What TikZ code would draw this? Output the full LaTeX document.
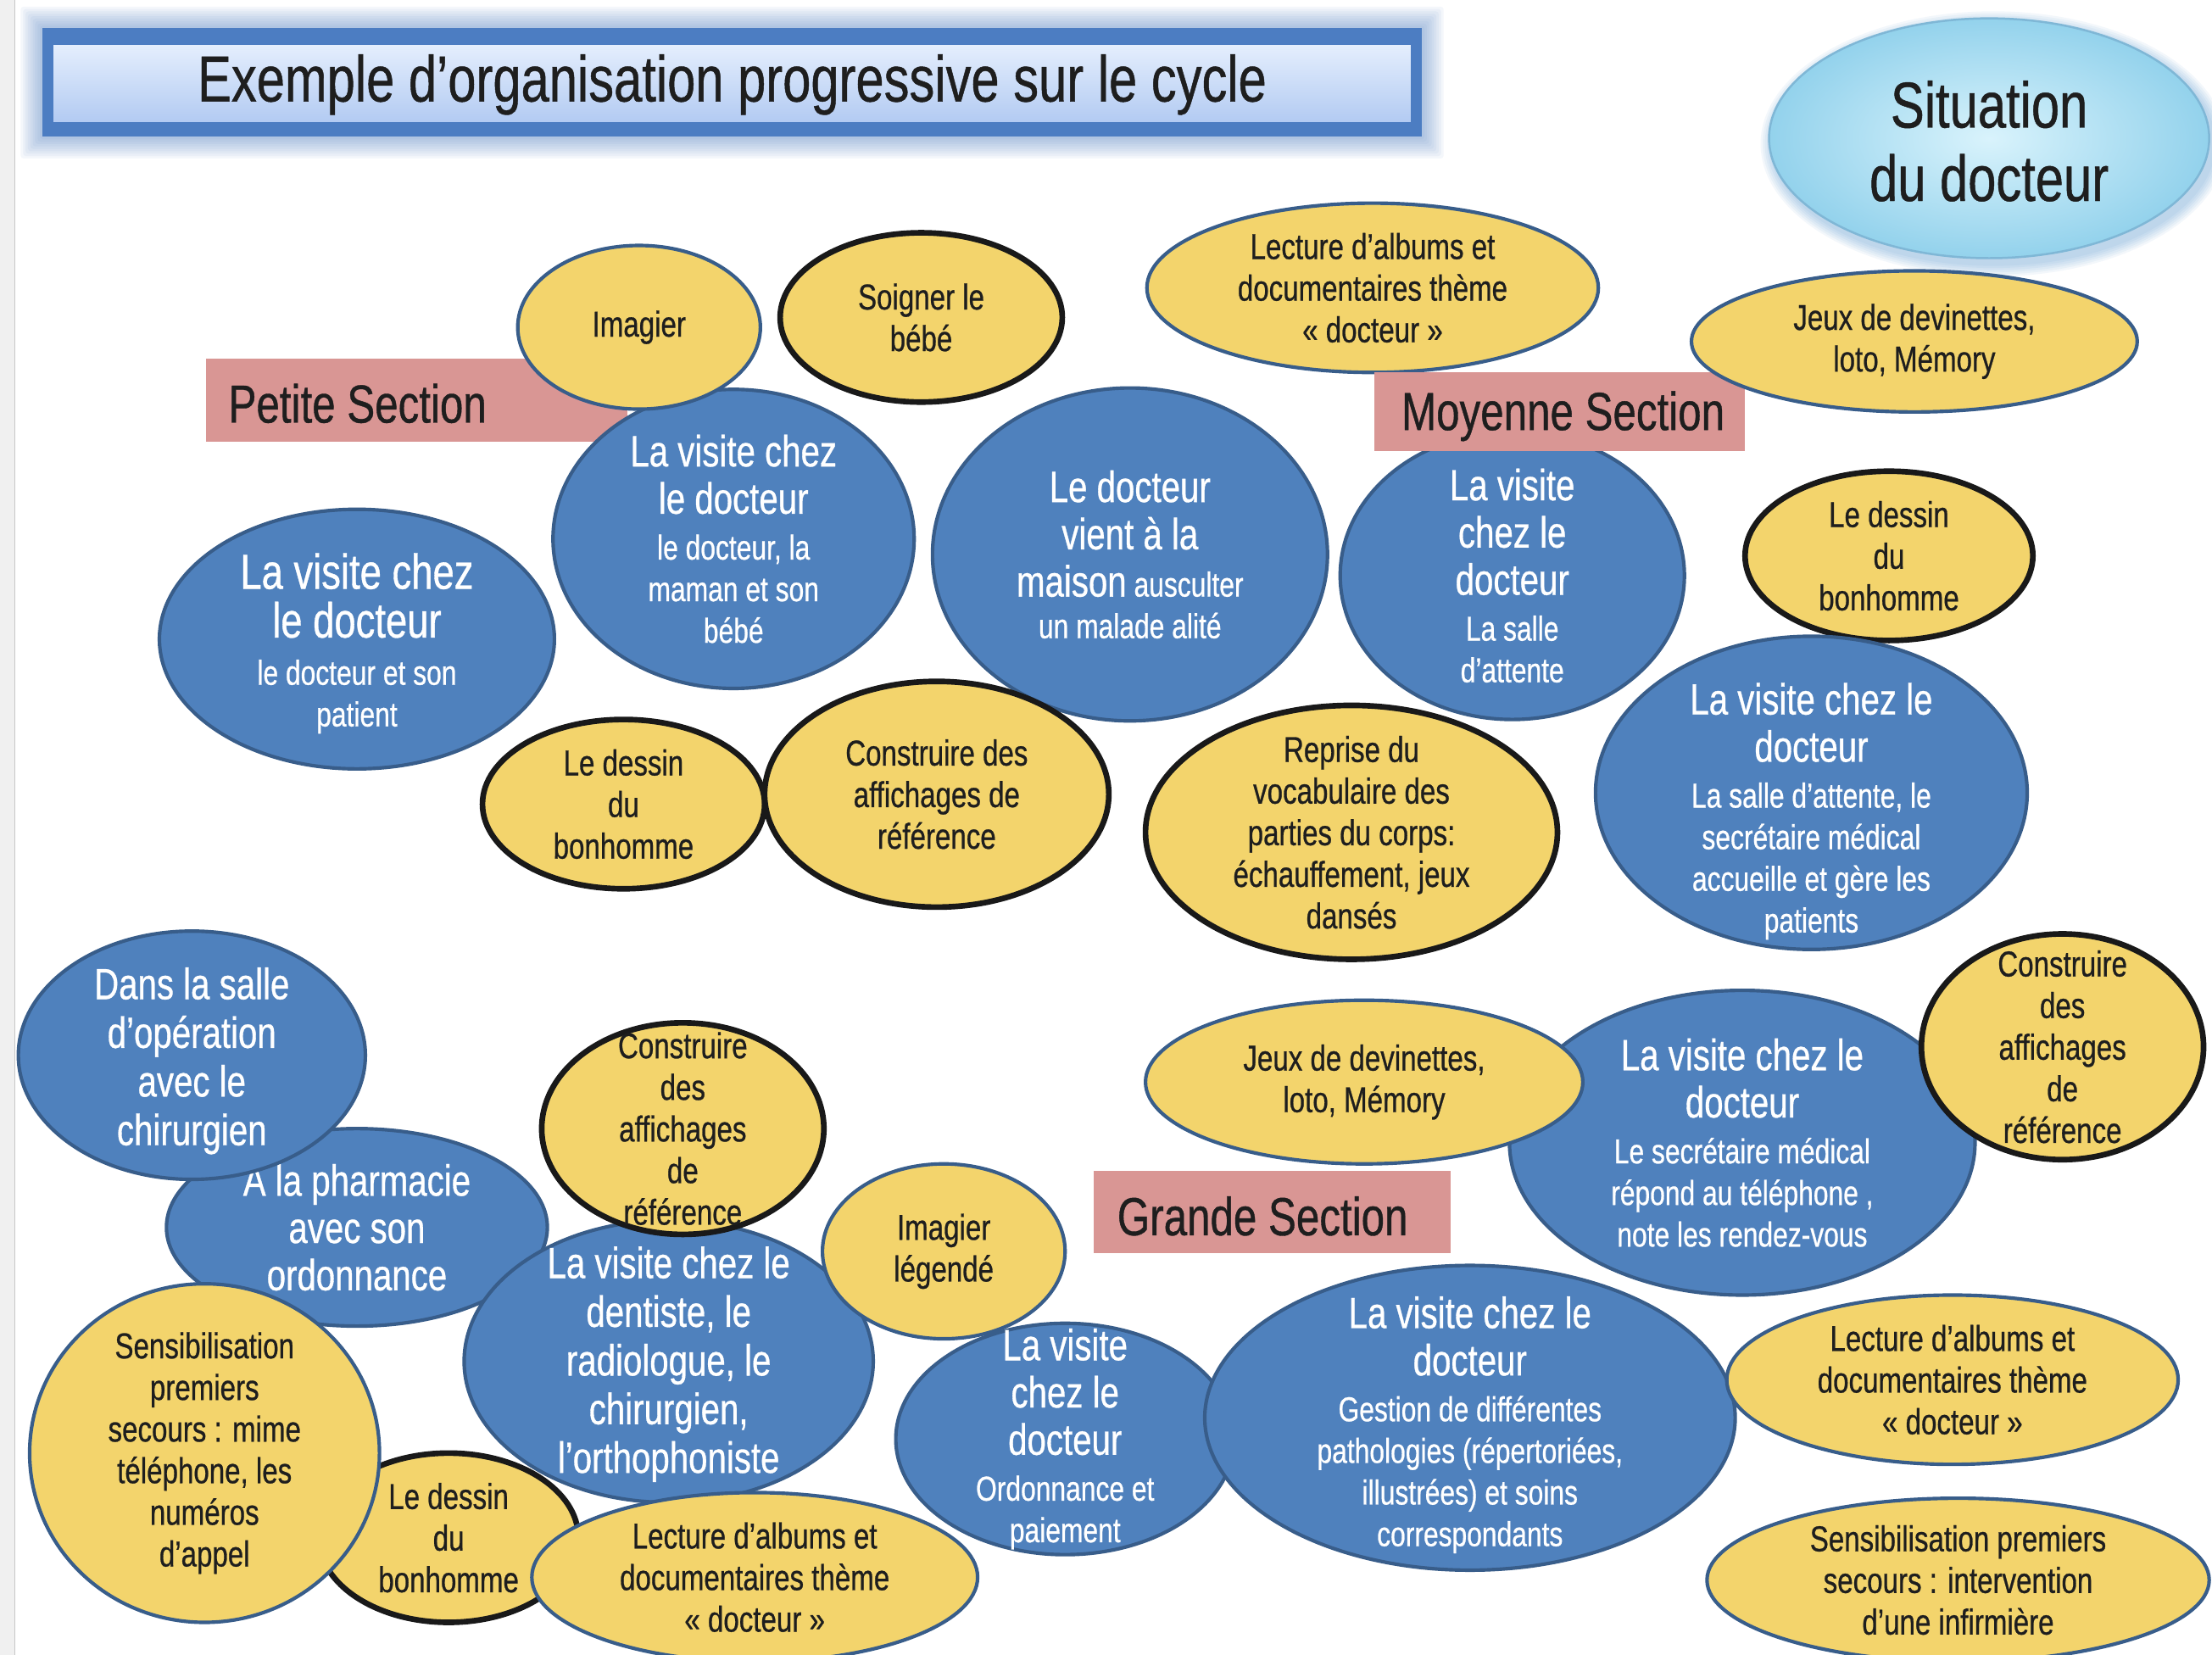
\documentclass[tikz,border=0pt]{standalone}
\usepackage{fontspec}
\setmainfont{Liberation Sans}[FakeStretch=0.78, FakeBold=0.6]
\usetikzlibrary{shapes.geometric}

\definecolor{bubblue}{HTML}{4F81BD}
\definecolor{bubedge}{HTML}{385D8A}
\definecolor{bubyellow}{HTML}{F3D46C}
\definecolor{tagpink}{HTML}{D99694}
\definecolor{titleband}{HTML}{4C7DC2}
\definecolor{titletop}{HTML}{E4EEFD}
\definecolor{titlebot}{HTML}{B3CBF2}
\definecolor{sitin}{HTML}{D9F3FC}
\definecolor{sitout}{HTML}{93D2EC}
\definecolor{sitedge}{HTML}{7FB7D6}
\definecolor{inkdark}{HTML}{1E1E1E}

% large lines inside the blue bubbles
\newcommand\bubbig{\fontsize{31}{34}\selectfont}
\newcommand\bubhuge{\fontsize{35}{38}\selectfont}

\tikzset{
  every node/.style={inner sep=0pt, outer sep=0pt},
  bshape/.style={ellipse, fill=bubblue, draw=bubedge, line width=2.5pt},
  yshape/.style={ellipse, fill=bubyellow, draw=bubedge, line width=2.5pt},
  kshape/.style={ellipse, fill=bubyellow, draw=black!90, line width=4pt},
  btext/.style={text=white, align=center, font=\fontsize{24.5}{29.5}\selectfont},
  ytext/.style={text=inkdark, align=center, font=\fontsize{25.5}{29.5}\selectfont},
  sectiontag/.style={fill=tagpink},
  tagtext/.style={text=inkdark, font=\fontsize{38}{40}\selectfont},
}

% #1 shape style, #2 text style, #3 name, #4 centre, #5 x radius, #6 y radius, #7 text
\newcommand\bubble[7]{%
  \node[#1, minimum width=2*#5pt, minimum height=2*#6pt] (#3) at (#4) {};
  \node[#2] (#3-text) at (#3.center) {#7};}

\begin{document}
\begin{tikzpicture}[x=1pt, y=-1pt]
\useasboundingbox (0,0) rectangle (1568,1173);
\fill[white] (0,0) rectangle (1568,1173);

% page edge
\fill[gray!12] (0,0) rectangle (10,1173);
\draw[gray!45, line width=1pt] (10.5,0) -- (10.5,1173);

% title banner
\foreach \g in {1,...,9}
  \fill[titleband, opacity=0.06, rounded corners=2pt]
    ({30-1.7*\g},{20-1.7*\g}) rectangle ({1008+1.7*\g},{97+1.7*\g});
\fill[titleband] (30,20) rectangle (1008,97);
\shade[top color=titletop, bottom color=titlebot] (38,32) rectangle (1000,86);
\node[text=inkdark, font=\fontsize{46}{50}\selectfont] (title) at (519,60)
  {Exemple d’organisation progressive sur le cycle};

% theme bubble
\foreach \g in {1,...,6}
  \fill[cyan!50!blue, opacity=0.05] (1413,102) ellipse ({156+1.5*\g} and {85+1.5*\g});
\node[ellipse, minimum width=312pt, minimum height=170pt, inner color=sitin,
      outer color=sitout, draw=sitedge, line width=1.5pt] (sit) at (1410,98) {};
\node[text=inkdark, align=center, font=\fontsize{46}{52}\selectfont] (sit-text)
  at (1410,100) {Situation\\du docteur};

% ---------------- Petite Section ----------------
\node[sectiontag, minimum width=299pt, minimum height=59pt] (ps) at (295.5,283.5) {};
\node[tagtext, anchor=west] (ps-text) at (162,286) {Petite Section};

\bubble{bshape}{btext, yshift=-3pt}{ps-patient}{253,453}{140}{92}
  {{\bubhuge La visite chez}\\[5pt]{\bubhuge le docteur}\\[4pt]le docteur et son\\patient}
\bubble{bshape}{btext}{ps-bebe}{520,382}{128}{106}
  {{\bubbig La visite chez}\\[4pt]{\bubbig le docteur}\\[3pt]le docteur, la\\maman et son\\bébé}
\bubble{yshape}{ytext}{ps-imagier}{453,232}{86}{58}{Imagier}
\bubble{kshape}{ytext}{ps-soigner}{653,225}{100}{60}{Soigner le\\bébé}
\bubble{bshape}{btext}{ps-maison}{801,393}{140}{118}
  {{\bubbig Le docteur}\\[4pt]{\bubbig vient à la}\\[4pt]{\bubbig maison} ausculter\\un malade alité}
\bubble{kshape}{ytext}{ps-dessin}{442,570}{100}{60}{Le dessin\\du\\bonhomme}
\bubble{kshape}{ytext}{ps-affichage}{664,563}{122}{80}{Construire des\\affichages de\\référence}

% ---------------- Moyenne Section ----------------
\bubble{kshape}{ytext}{ms-corps}{958,590}{146}{90}
  {Reprise du\\vocabulaire des\\parties du corps:\\échauffement, jeux\\dansés}
\bubble{yshape}{ytext}{ms-lecture}{973,204}{160}{60}
  {Lecture d'albums et\\documentaires thème\\«~docteur~»}
\bubble{bshape}{btext}{ms-attente}{1072,408}{122}{102}
  {{\bubbig La visite}\\[4pt]{\bubbig chez le}\\[4pt]{\bubbig docteur}\\[3pt]La salle\\d'attente}
\node[sectiontag, minimum width=263pt, minimum height=56pt] (ms) at (1105.5,292) {};
\node[tagtext] (ms-text) at (1108,295) {Moyenne Section};
\bubble{yshape}{ytext}{ms-jeux}{1357,242}{158}{50}{Jeux de devinettes,\\loto, Mémory}
\bubble{kshape}{ytext}{ms-dessin}{1339,394}{102}{60}{Le dessin\\du\\bonhomme}
\bubble{bshape}{btext, yshift=-13pt}{ms-accueil}{1284,562}{153}{111}
  {{\bubbig La visite chez le}\\[4pt]{\bubbig docteur}\\[3pt]La salle d'attente, le\\secrétaire médical\\accueille et gère les\\patients}

% ---------------- Grande Section ----------------
\bubble{bshape}{btext}{gs-pharmacie}{253,870}{135}{70}
  {{\bubbig A la pharmacie}\\[4pt]{\bubbig avec son}\\[4pt]{\bubbig ordonnance}}
\bubble{bshape}{btext, yshift=-4pt}{gs-operation}{136,748}{123}{88}
  {{\bubbig Dans la salle}\\[5pt]{\bubbig d'opération}\\[5pt]{\bubbig avec le}\\[5pt]{\bubbig chirurgien}}
\bubble{bshape}{btext, yshift=-2pt}{gs-specialistes}{474,965}{145}{100}
  {{\bubbig La visite chez le}\\[5pt]{\bubbig dentiste, le}\\[5pt]{\bubbig radiologue, le}\\[5pt]{\bubbig chirurgien,}\\[5pt]{\bubbig l'orthophoniste}}
\bubble{kshape}{ytext}{gs-affichage}{484,800}{100}{75}{Construire\\des\\affichages\\de\\référence}
\bubble{kshape}{ytext}{gs-dessin}{318,1090}{92}{60}{Le dessin\\du\\bonhomme}
\bubble{yshape}{ytext}{gs-secours}{145,1030}{124}{120}
  {Sensibilisation\\premiers\\secours : mime\\téléphone, les\\numéros\\d'appel}
\bubble{yshape}{ytext}{gs-lecture}{535,1118}{158}{60}
  {Lecture d'albums et\\documentaires thème\\«~docteur~»}
\bubble{bshape}{btext}{gs-ordonnance}{755,1020}{120}{82}
  {{\bubbig La visite}\\[4pt]{\bubbig chez le}\\[4pt]{\bubbig docteur}\\[3pt]Ordonnance et\\paiement}
\bubble{yshape}{ytext}{gs-imagier}{669,887}{86}{62}{Imagier\\légendé}
\bubble{bshape}{btext, yshift=-5pt}{gs-pathologies}{1042,1005}{188}{108}
  {{\bubbig La visite chez le}\\[4pt]{\bubbig docteur}\\[3pt]Gestion de différentes\\pathologies (répertoriées,\\illustrées) et soins\\correspondants}
\bubble{bshape}{btext}{gs-telephone}{1235,810}{165}{108}
  {{\bubbig La visite chez le}\\[4pt]{\bubbig docteur}\\[3pt]Le secrétaire médical\\répond au téléphone ,\\note les rendez-vous}
\bubble{yshape}{ytext}{gs-jeux}{967,767}{155}{58}{Jeux de devinettes,\\loto, Mémory}
\bubble{kshape}{ytext}{gs-affichage2}{1462,742}{100}{80}{Construire\\des\\affichages\\de\\référence}
\bubble{yshape}{ytext}{gs-lecture2}{1384,978}{160}{60}
  {Lecture d'albums et\\documentaires thème\\«~docteur~»}
\bubble{yshape}{ytext}{gs-infirmiere}{1388,1120}{178}{58}
  {Sensibilisation premiers\\secours : intervention\\d'une infirmière}
\node[sectiontag, minimum width=253pt, minimum height=58pt] (gs) at (901.5,859) {};
\node[tagtext] (gs-text) at (895,862) {Grande Section};

\end{tikzpicture}
\end{document}
